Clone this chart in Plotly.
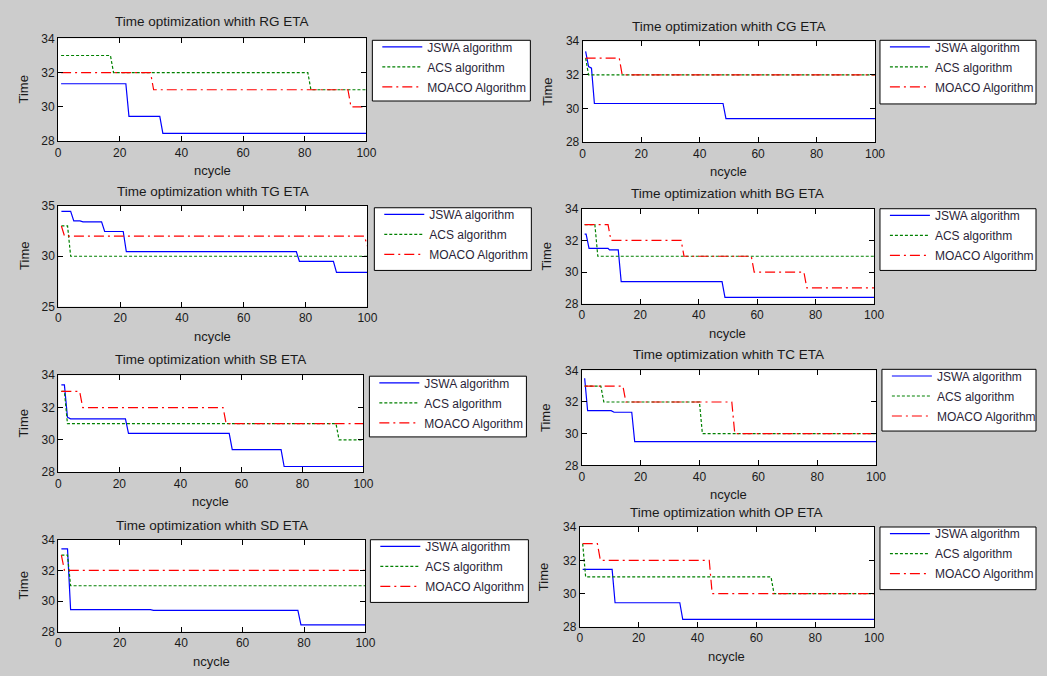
import plotly.graph_objects as go

W, H = 1047, 676

# ---------------- data (breakpoints: (ncycle, time)) ----------------
CHARTS = ["RG", "TG", "SB", "SD", "CG", "BG", "TC", "OP"]
SERIES = ["JSWA algorithm", "ACS algorithm", "MOACO Algorithm"]

RG_JSWA = [(1, 31.35), (22, 31.35), (23, 29.45), (33, 29.45), (34, 28.45), (100, 28.45)]
RG_ACS = [(1, 33), (17, 33), (18, 32), (81, 32), (82, 31), (100, 31)]
RG_MOACO = [(1, 32), (30, 32), (31, 31), (94, 31), (95, 30), (100, 30)]

TG_JSWA = [(1, 34.45), (4, 34.45), (5, 33.5), (7, 33.5), (8, 33.4), (14, 33.4), (15, 32.45),
           (21, 32.45), (22, 30.45), (77, 30.45), (78, 29.5), (89, 29.5), (90, 28.4), (100, 28.4)]
TG_ACS = [(1, 33), (3, 33), (4, 30), (100, 30)]
TG_MOACO = [(1, 33), (2, 32), (99, 32), (100, 31)]

SB_JSWA = [(1, 33.4), (2, 33.4), (3, 31.4), (4, 31.3), (22, 31.3), (23, 30.4), (56, 30.4),
           (57, 29.4), (73, 29.4), (74, 28.35), (100, 28.35)]
SB_ACS = [(1, 33), (2, 33), (3, 31), (91, 31), (92, 30), (100, 30)]
SB_MOACO = [(1, 33), (7, 33), (8, 32), (54, 32), (55, 31), (100, 31)]

SD_JSWA = [(1, 33.4), (3, 33.4), (4, 29.45), (30, 29.45), (31, 29.4), (78, 29.4), (79, 28.45), (100, 28.45)]
SD_ACS = [(1, 33), (3, 33), (4, 31), (100, 31)]
SD_MOACO = [(1, 33), (2, 32), (100, 32)]

CG_JSWA = [(1, 33.4), (2, 32.5), (3, 32.4), (4, 30.3), (48, 30.3), (49, 29.4), (100, 29.4)]
CG_ACS = [(1, 33), (2, 32), (100, 32)]
CG_MOACO = [(1, 33), (12.5, 33), (13.5, 32), (100, 32)]

BG_JSWA = [(1, 32.4), (1.5, 32.4), (2.5, 31.5), (9, 31.5), (9.5, 31.4), (12.5, 31.4), (13.5, 29.4),
           (48, 29.4), (49, 28.4), (100, 28.4)]
BG_ACS = [(1, 33), (4.5, 33), (5.5, 31), (100, 31)]
BG_MOACO = [(1, 33), (9, 33), (10, 32), (34, 32), (35, 31), (58, 31), (59, 30), (76, 30), (77, 29), (100, 29)]

TC_JSWA = [(1, 33.5), (2, 31.45), (10, 31.45), (11, 31.35), (17, 31.35), (18, 29.5), (100, 29.5)]
TC_ACS = [(1, 33), (6.5, 33), (7.5, 32), (40, 32), (41, 30), (100, 30)]
TC_MOACO = [(1, 33), (14, 33), (15, 32), (51, 32), (52, 30), (100, 30)]

OP_JSWA = [(1, 31.45), (11, 31.45), (12, 29.45), (34, 29.45), (35, 28.45), (100, 28.45)]
OP_ACS = [(1, 33), (2, 31), (65, 31), (66, 30), (100, 30)]
OP_MOACO = [(1, 33), (6, 33), (7, 32), (44, 32), (45, 30), (100, 30)]

DATA = {
    "RG": [RG_JSWA, RG_ACS, RG_MOACO],
    "TG": [TG_JSWA, TG_ACS, TG_MOACO],
    "SB": [SB_JSWA, SB_ACS, SB_MOACO],
    "SD": [SD_JSWA, SD_ACS, SD_MOACO],
    "CG": [CG_JSWA, CG_ACS, CG_MOACO],
    "BG": [BG_JSWA, BG_ACS, BG_MOACO],
    "TC": [TC_JSWA, TC_ACS, TC_MOACO],
    "OP": [OP_JSWA, OP_ACS, OP_MOACO],
}
Y_RANGES = {"RG": [28, 34], "TG": [25, 35], "SB": [28, 34], "SD": [28, 34],
            "CG": [28, 34], "BG": [28, 34], "TC": [28, 34], "OP": [28, 34]}
Y_TICKS = {"RG": [28, 30, 32, 34], "TG": [25, 30, 35]}
DEFAULT_Y_TICKS = [28, 30, 32, 34]
X_TICKS = [0, 20, 40, 60, 80, 100]

# ---------------- layout (pixel boxes) ----------------
# plot area: (left, right, top, bottom)
BOX = {
    "RG": (55.7, 368, 32, 137), "TG": (56, 369, 203, 306),
    "SB": (56, 365, 376, 475), "SD": (56, 367, 544, 638),
    "CG": (587, 883, 35, 138), "BG": (586, 882, 206, 303),
    "TC": (586, 884, 371, 468), "OP": (584, 882, 531, 633),
}
TITLE_Y = {"RG": 15, "TG": 188, "SB": 360, "SD": 529, "CG": 20, "BG": 190, "TC": 355, "OP": 516}
YLAB_X = {"RG": 21, "TG": 21, "SB": 21, "SD": 21, "CG": 552, "BG": 550, "TC": 550, "OP": 548}
# legend boxes: (left, top, right, bottom)
LEG = {"RG": (374, 34, 534, 96), "TG": (376, 205, 535, 269), "SB": (371, 377, 530, 439),
       "SD": (372, 544, 532, 608), "CG": (888, 34, 1046, 99), "BG": (888, 206, 1046, 269),
       "TC": (890, 370, 1046, 433), "OP": (888, 531, 1046, 595)}

COLORS = ["#0000ff", "#008000", "#ff0000"]
DASHES = ["solid", "3px,2px", "10px,4px,2px,4px"]

FONT = "Liberation Sans, Arial, sans-serif"
TXT = "#1a1a1a"

fig = go.Figure()
layout = dict(
    width=W, height=H, margin=dict(l=0, r=0, t=0, b=0),
    paper_bgcolor="#cccccc", plot_bgcolor="#ffffff",
    font=dict(family=FONT, size=12, color=TXT),
    showlegend=True,
)
annotations = []
shapes = []

for i, c in enumerate(CHARTS):
    n = i + 1
    sfx = "" if n == 1 else str(n)
    l, r, t, b = BOX[c]
    legname = "legend" if n == 1 else f"legend{n}"
    for s, name in enumerate(SERIES):
        pts = DATA[c][s]
        fig.add_trace(go.Scatter(
            x=[p[0] for p in pts], y=[p[1] for p in pts], mode="lines", name=name,
            line=dict(color=COLORS[s], width=1.2, dash=DASHES[s]),
            xaxis="x" + sfx, yaxis="y" + sfx, legend=legname, legendgroup=f"{c}{s}",
        ))
    layout["xaxis" + sfx] = dict(
        domain=[l / W, r / W], range=[0, 100], tickvals=X_TICKS, anchor="y" + sfx,
        showline=True, linecolor="black", linewidth=1, mirror="ticks",
        ticks="inside", ticklen=5, tickcolor="black", showgrid=False, zeroline=False,
        tickfont=dict(size=12, color=TXT, family=FONT),
    )
    layout["yaxis" + sfx] = dict(
        domain=[1 - b / H, 1 - t / H], range=Y_RANGES[c], tickvals=Y_TICKS.get(c, DEFAULT_Y_TICKS),
        anchor="x" + sfx,
        showline=True, linecolor="black", linewidth=1, mirror="ticks",
        ticks="inside", ticklen=5, tickcolor="black", showgrid=False, zeroline=False,
        tickfont=dict(size=12, color=TXT, family=FONT),
    )
    bl, bt, br, bb = LEG[c]
    shapes.append(dict(
        type="rect", xref="paper", yref="paper", x0=bl / W, x1=br / W, y0=1 - bb / H, y1=1 - bt / H,
        fillcolor="#ffffff", line=dict(color="black", width=1), layer="below",
    ))
    layout[legname] = dict(
        x=(bl + 5) / W, y=1 - (bt - 8) / H, xanchor="left", yanchor="top",
        bgcolor="rgba(0,0,0,0)", borderwidth=0, tracegroupgap=1,
        font=dict(size=12, color="#2a1f38", family=FONT), itemwidth=40,
    )
    annotations.append(dict(
        text=f"Time optimization whith {c} ETA", x=(l + r) / 2 / W, y=1 - TITLE_Y[c] / H,
        xref="paper", yref="paper", xanchor="center", yanchor="middle", showarrow=False,
        font=dict(size=13.5, color=TXT, family=FONT),
    ))
    annotations.append(dict(
        text="ncycle", x=(l + r) / 2 / W, y=1 - (b + 30) / H,
        xref="paper", yref="paper", xanchor="center", yanchor="middle", showarrow=False,
        font=dict(size=13, color=TXT, family=FONT),
    ))
    annotations.append(dict(
        text="Time", x=YLAB_X[c] / W, y=1 - (t + b) / 2 / H, textangle=-90,
        xref="paper", yref="paper", xanchor="center", yanchor="middle", showarrow=False,
        font=dict(size=13, color=TXT, family=FONT),
    ))

layout["annotations"] = annotations
layout["shapes"] = shapes
fig.update_layout(**layout)
fig.write_html("out.html", config={"displayModeBar": False},
               post_script="document.body.style.margin='0';")
